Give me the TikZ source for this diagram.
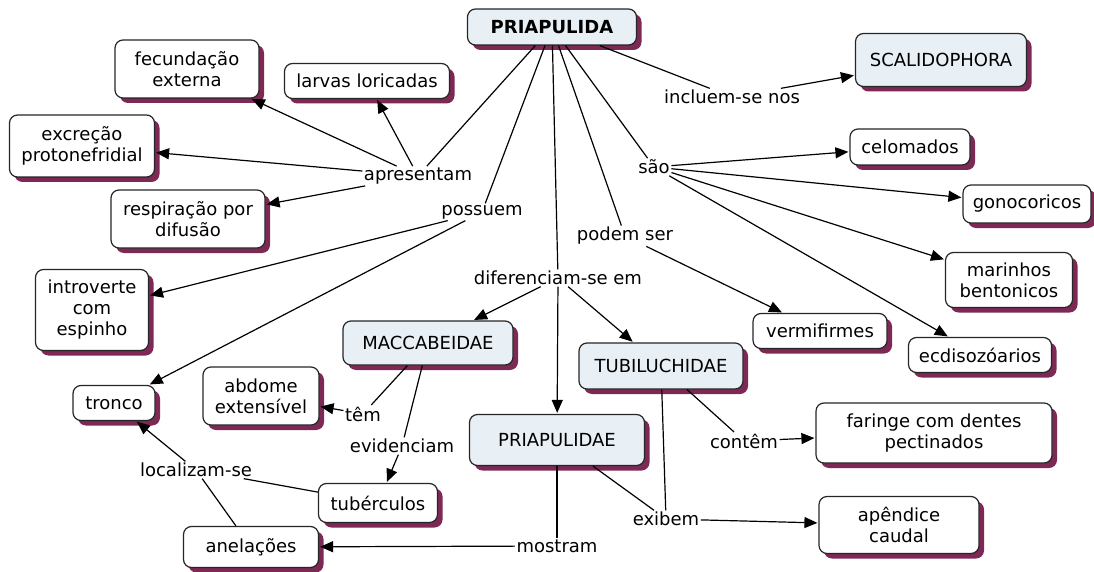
\documentclass[tikz,border=0pt]{standalone}
\usepackage{fontspec}
\setmainfont{DejaVu Sans}
\usetikzlibrary{arrows.meta,shadows}
\definecolor{shad}{RGB}{125,40,85}
\definecolor{grpc}{RGB}{232,240,245}
\begin{document}
\begin{tikzpicture}[x=1pt,y=-1pt,
  every node/.style={font=\fontsize{18}{21}\selectfont},
  concept/.style={draw=black!85, line width=1.2pt, rounded corners=8pt, fill=white,
    align=center, inner xsep=6pt, inner ysep=4pt,
    drop shadow={shadow xshift=5pt,shadow yshift=-5pt,fill=shad,opacity=1}},
  grp/.style={concept, fill=grpc},
  lab/.style={inner sep=1.5pt, align=center},
  link/.style={draw, line width=1.2pt},
  arr/.style={link, -{Triangle[length=13pt,width=11pt]}, shorten >=1pt}]
\useasboundingbox (0,0) rectangle (1094,572);
% concepts
\node[grp, minimum width=169pt, minimum height=36pt, font=\fontsize{18}{21}\selectfont\bfseries] (pri) at (552,27) {PRIAPULIDA};
\node[concept, minimum width=144pt, minimum height=58pt] (fec) at (187,69) {fecundação\\externa};
\node[concept, minimum width=165pt, minimum height=35pt] (lar) at (367,81) {larvas loricadas};
\node[concept, minimum width=145pt, minimum height=62pt] (exc) at (82,146) {excreção\\protonefridial};
\node[concept, minimum width=154pt, minimum height=58pt] (res) at (188,219) {respiração por\\difusão};
\node[concept, minimum width=113pt, minimum height=81pt] (int) at (92,310) {introverte\\com\\espinho};
\node[concept, minimum width=82pt, minimum height=35pt] (tro) at (114,403) {tronco};
\node[concept, minimum width=116pt, minimum height=58pt] (abd) at (261,396) {abdome\\extensível};
\node[grp, minimum width=170pt, minimum height=44pt] (mac) at (428,343) {MACCABEIDAE};
\node[concept, minimum width=119pt, minimum height=39pt] (tub) at (378,503) {tubérculos};
\node[concept, minimum width=135pt, minimum height=41pt] (ane) at (251,547) {anelações};
\node[grp, minimum width=175pt, minimum height=51pt] (prie) at (557,440) {PRIAPULIDAE};
\node[grp, minimum width=164pt, minimum height=46pt] (tbl) at (661,366) {TUBILUCHIDAE};
\node[concept, minimum width=134pt, minimum height=35pt] (ver) at (820,331) {vermifirmes};
\node[concept, minimum width=236pt, minimum height=60pt] (far) at (934,433) {faringe com dentes\\pectinados};
\node[concept, minimum width=160pt, minimum height=57pt] (ape) at (899,525) {apêndice\\caudal};
\node[grp, minimum width=171pt, minimum height=53pt] (sca) at (941,60) {SCALIDOPHORA};
\node[concept, minimum width=120pt, minimum height=36pt] (cel) at (910,147) {celomados};
\node[concept, minimum width=128pt, minimum height=38pt] (gon) at (1027,204) {gonocoricos};
\node[concept, minimum width=127pt, minimum height=55pt] (mar) at (1009,280) {marinhos\\bentonicos};
\node[concept, minimum width=143pt, minimum height=35pt] (ecd) at (980,355) {ecdisozóarios};
% linking phrases
\node[lab] (apr) at (418,176) {apresentam};
\node[lab] (pos) at (482,212) {possuem};
\node[lab] (dif) at (558,278) {diferenciam-se em};
\node[lab] (pod) at (625,236) {podem ser};
\node[lab] (sao) at (654,167) {são};
\node[lab] (inc) at (732,97) {incluem-se nos};
\node[lab] (tem) at (363,414) {têm};
\node[lab] (evi) at (402,446) {evidenciam};
\node[lab] (loc) at (196,470) {localizam-se};
\node[lab] (mos) at (557,546) {mostram};
\node[lab] (exi) at (666,519) {exibem};
\node[lab] (con) at (744,441) {contêm};
% connectors
\draw[link] (pri) -- (apr);
\draw[arr] (apr) -- (fec);
\draw[arr] (apr) -- (lar);
\draw[arr] (apr) -- (exc);
\draw[arr] (apr) -- (res);
\draw[link] (pri) -- (pos);
\draw[arr] (pos) -- (int);
\draw[arr] (pos) -- (tro);
\draw[link] (pri) -- (dif);
\draw[arr] (dif) -- (mac);
\draw[arr] (dif) -- (tbl);
\draw[arr] (dif) -- (prie);
\draw[link] (pri) -- (pod);
\draw[arr] (pod) -- (ver);
\draw[link] (pri) -- (sao);
\draw[arr] (sao) -- (cel);
\draw[arr] (sao) -- (gon);
\draw[arr] (sao) -- (mar);
\draw[arr] (sao) -- (ecd);
\draw[link] (pri) -- (inc);
\draw[arr] (inc) -- (sca);
\draw[link] (mac) -- (tem);
\draw[arr] (tem) -- (abd);
\draw[link] (mac) -- (evi);
\draw[arr] (evi) -- (tub);
\draw[link] (tub) -- (loc);
\draw[link] (ane) -- (loc);
\draw[arr] (loc) -- (tro);
\draw[link] (prie) -- (mos);
\draw[arr] (mos) -- (ane);
\draw[link] (prie) -- (exi);
\draw[link] (tbl) -- (exi);
\draw[arr] (exi) -- (ape);
\draw[link] (tbl) -- (con);
\draw[arr] (con) -- (far);
\end{tikzpicture}
\end{document}
